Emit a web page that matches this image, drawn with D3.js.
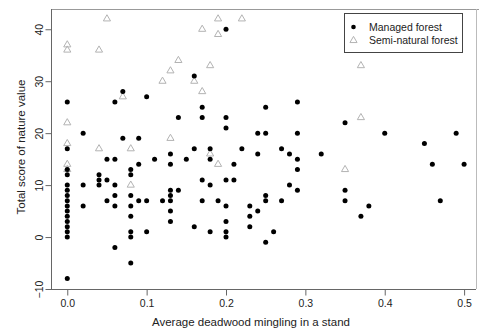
<!DOCTYPE html>
<html>
<head>
<meta charset="utf-8">
<script src="https://cdn.jsdelivr.net/npm/d3@7"></script>
<style>
  body { margin: 0; background: #fff; }
  text { font-family: "Liberation Sans", Arial, sans-serif; fill: #222; }
</style>
</head>
<body>
<div id="chart"></div>
<script>
// Managed forest stands: [deadwood mingling, nature value score]
const managed = [
  [0, 26], [0, 17], [0, 13], [0, 12], [0, 10], [0, 9], [0, 8], [0, 7], [0, 6], [0, 5],
  [0, 4], [0, 3], [0, 2], [0, 1], [0, 0], [0, -8],
  [0.02, 20], [0.02, 10], [0.02, 6],
  [0.04, 12], [0.04, 11], [0.04, 10],
  [0.05, 15], [0.05, 11], [0.05, 7],
  [0.06, 26], [0.06, 15], [0.06, 10], [0.06, 8], [0.06, 6], [0.06, -2],
  [0.07, 28], [0.07, 19],
  [0.08, 13], [0.08, 12], [0.08, 8], [0.08, 6], [0.08, 4], [0.08, 1], [0.08, 0], [0.08, -5],
  [0.09, 19], [0.09, 14], [0.09, 7],
  [0.10, 27], [0.10, 7], [0.10, 1],
  [0.11, 15], [0.12, 7],
  [0.13, 16], [0.13, 14], [0.13, 9], [0.13, 8], [0.13, 7], [0.13, 5], [0.13, 3],
  [0.14, 23], [0.14, 9], [0.15, 15],
  [0.16, 31], [0.16, 17], [0.16, 2],
  [0.17, 25], [0.17, 23], [0.17, 11], [0.17, 7],
  [0.18, 17], [0.18, 15], [0.18, 10], [0.18, 1],
  [0.19, 7],
  [0.20, 40], [0.20, 23], [0.20, 21], [0.20, 11], [0.20, 6], [0.20, 3], [0.20, 1], [0.20, 0],
  [0.21, 14], [0.21, 11], [0.22, 17],
  [0.23, 6], [0.23, 4], [0.23, 2],
  [0.24, 20], [0.24, 16], [0.24, 5],
  [0.25, 25], [0.25, 20], [0.25, 8], [0.25, 7], [0.25, -1],
  [0.26, 1], [0.27, 17], [0.27, 7], [0.28, 16], [0.28, 10],
  [0.29, 26], [0.29, 20], [0.29, 15], [0.29, 13], [0.29, 9],
  [0.32, 16], [0.35, 22], [0.35, 9], [0.35, 7], [0.37, 4], [0.38, 6],
  [0.40, 20], [0.45, 18], [0.46, 14], [0.47, 7], [0.49, 20], [0.50, 14]
];

// Semi-natural forest stands
const seminatural = [
  [0, 37], [0, 36], [0, 22], [0, 18], [0, 14], [0, 13],
  [0.04, 36], [0.04, 17], [0.05, 42], [0.07, 27], [0.08, 17], [0.08, 10],
  [0.12, 30], [0.13, 32], [0.13, 19], [0.14, 34], [0.16, 30],
  [0.17, 40], [0.17, 28], [0.18, 33], [0.18, 16],
  [0.19, 42], [0.19, 39], [0.19, 14], [0.22, 42],
  [0.35, 13], [0.37, 33], [0.37, 23]
];

const xTicks = [0, 0.1, 0.2, 0.3, 0.4, 0.5];
const yTicks = [-10, 0, 10, 20, 30, 40];
const legendLabels = ["Managed forest", "Semi-natural forest"];

const W = 479, H = 329;
const m = {left: 51, right: 476, top: 9, bottom: 289};

const svg = d3.select("#chart").append("svg")
    .attr("width", W)
    .attr("height", H);

const x = d3.scaleLinear().domain([-0.0205, 0.515]).range([m.left, m.right]);
const y = d3.scaleLinear().domain([-10, 43.9]).range([m.bottom, m.top]);

// plot frame
svg.append("line").attr("x1", m.left).attr("x2", 480).attr("y1", m.top + 0.5).attr("y2", m.top + 0.5)
    .attr("stroke", "#999");
svg.append("line").attr("x1", m.right + 0.5).attr("x2", m.right + 0.5).attr("y1", m.top).attr("y2", m.bottom)
    .attr("stroke", "#bbb");

// x axis
const gx = svg.append("g")
    .attr("transform", `translate(0,${m.bottom + 0.5})`)
    .call(d3.axisBottom(x).tickValues(xTicks).tickFormat(d3.format(".1f")).tickSize(6).tickSizeOuter(0).tickPadding(4));
gx.select(".domain").remove();
gx.append("line").attr("x1", m.left).attr("x2", m.right).attr("stroke", "#666");
gx.selectAll(".tick line").attr("stroke", "#666");
gx.selectAll("text").style("font-size", "10.5px").attr("fill", "#222");

// y axis
const gy = svg.append("g")
    .attr("transform", `translate(${m.left + 0.5},0)`)
    .call(d3.axisLeft(y).tickValues(yTicks).tickSize(6).tickSizeOuter(0));
gy.select(".domain").remove();
gy.append("line").attr("y1", m.top).attr("y2", m.bottom).attr("stroke", "#666");
gy.selectAll(".tick line").attr("stroke", "#666");
gy.selectAll("text")
    .style("font-size", "10.5px")
    .attr("fill", "#222")
    .attr("text-anchor", "middle")
    .attr("transform", "rotate(-90)")
    .attr("x", 0)
    .attr("y", -8.5)
    .attr("dy", 0);

// axis titles
svg.append("text")
    .attr("x", 251).attr("y", 326)
    .attr("text-anchor", "middle")
    .style("font-size", "11.5px")
    .text("Average deadwood mingling in a stand");

svg.append("text")
    .attr("transform", "translate(25,147) rotate(-90)")
    .attr("text-anchor", "middle")
    .style("font-size", "11.5px")
    .text("Total score of nature value");

const tri = d3.symbol().type(d3.symbolTriangle).size(22);

// semi-natural triangles
svg.append("g")
    .selectAll("path")
    .data(seminatural)
    .join("path")
    .attr("d", tri)
    .attr("transform", d => `translate(${x(d[0])},${y(d[1])})`)
    .attr("fill", "none")
    .attr("stroke", "#b3b3b3")
    .attr("stroke-width", 1);

// managed dots
svg.append("g")
    .selectAll("circle")
    .data(managed)
    .join("circle")
    .attr("cx", d => x(d[0]))
    .attr("cy", d => y(d[1]))
    .attr("r", 2.5)
    .attr("fill", "#000");

// legend
const legend = svg.append("g").attr("transform", "translate(344.5,13.5)");
legend.append("rect")
    .attr("width", 118).attr("height", 39)
    .attr("fill", "#fff")
    .attr("stroke", "#444");
legend.append("circle").attr("cx", 9).attr("cy", 13.5).attr("r", 2.3).attr("fill", "#000");
legend.append("path").attr("d", tri).attr("transform", "translate(9,27)")
    .attr("fill", "none").attr("stroke", "#b3b3b3");
legend.selectAll("text.lab")
    .data(legendLabels)
    .join("text")
    .attr("class", "lab")
    .attr("x", 24.5)
    .attr("y", (d, i) => 17.3 + i * 13.5)
    .style("font-size", "10.5px")
    .text(d => d);
</script>
</body>
</html>
